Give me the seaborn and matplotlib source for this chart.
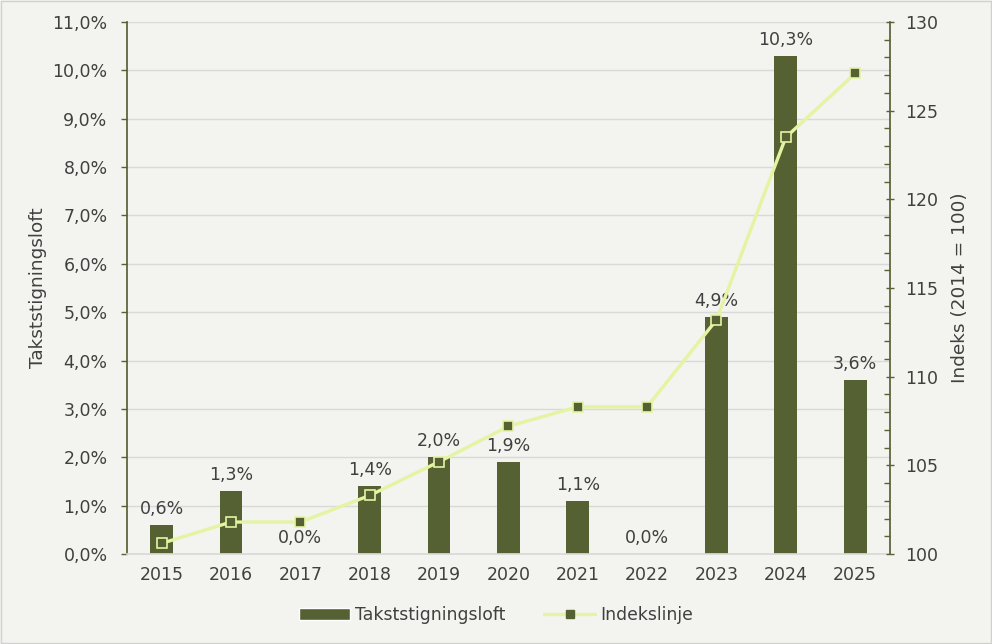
import numpy as np
import pandas as pd
import seaborn as sns
import matplotlib.pyplot as plt
from matplotlib.ticker import MultipleLocator, FuncFormatter
from matplotlib.patches import Patch
from matplotlib.lines import Line2D

years = ["2015", "2016", "2017", "2018", "2019", "2020", "2021", "2022", "2023", "2024", "2025"]
takst = [0.6, 1.3, 0.0, 1.4, 2.0, 1.9, 1.1, 0.0, 4.9, 10.3, 3.6]
indeks = [100.6, 101.8, 101.8, 103.3, 105.2, 107.2, 108.3, 108.3, 113.2, 123.5, 127.1]

bar_col = "#566133"
line_col = "#E4F4A2"
bg = "#F3F3EF"
txt = "#404040"

sns.set_theme(style="white")
plt.rcParams["font.family"] = ["DejaVu Sans"]

df = pd.DataFrame({"year": years, "takst": takst, "indeks": indeks})

fig = plt.figure(figsize=(9.92, 6.44), dpi=100, facecolor=bg)
ax = fig.add_axes([0.128, 0.1398, 0.769, 0.826])
ax.set_facecolor(bg)

sns.barplot(data=df, x="year", y="takst", color=bar_col, width=0.33,
            saturation=1, ax=ax, zorder=2, linewidth=0)
for c in ax.containers:
    ax.bar_label(c, labels=[f"{v:.1f}%".replace(".", ",") for v in takst],
                 padding=5, fontsize=12.5, color=txt)

ax.set_ylim(0, 11)
ax.set_xlim(-0.5, len(years) - 0.5)
ax.yaxis.set_major_locator(MultipleLocator(1))
ax.yaxis.set_major_formatter(FuncFormatter(lambda v, p: f"{v:.1f}%".replace(".", ",")))
ax.grid(axis="y", color="#D9D9D9", lw=1, zorder=0)
ax.set_axisbelow(True)
ax.set_xlabel("")
ax.set_ylabel("Takststigningsloft", fontsize=13.3, color=txt, labelpad=4)
ax.tick_params(axis="y", labelsize=12.5, colors=txt, length=4, width=1, color="#5A6035",
               left=True, pad=10)
ax.tick_params(axis="x", labelsize=12.5, colors=txt, length=0, pad=9)
for s in ["top", "right"]:
    ax.spines[s].set_visible(False)
ax.spines["left"].set_color("#5A6035")
ax.spines["bottom"].set_color("#D9D9D9")

ax2 = ax.twinx()
sns.lineplot(x=np.arange(len(years)), y=indeks, ax=ax2, color=line_col, lw=2.4,
             marker="s", markersize=6.5, markerfacecolor=bar_col,
             markeredgecolor=line_col, markeredgewidth=1.2, zorder=3)
ax2.set_ylim(100, 130)
ax2.yaxis.set_major_locator(MultipleLocator(5))
ax2.yaxis.set_minor_locator(MultipleLocator(1))
ax2.set_ylabel("Indeks (2014 = 100)", fontsize=13.3, color=txt, labelpad=9)
ax2.tick_params(axis="y", which="major", labelsize=12.5, colors=txt, length=6,
                direction="inout", width=1, color="#5A6035", right=True, pad=8)
ax2.tick_params(axis="y", which="minor", length=4, direction="in", width=1,
                color="#5A6035", right=True)
for s in ["top", "left", "bottom"]:
    ax2.spines[s].set_visible(False)
ax2.spines["right"].set_color("#5A6035")

handles = [Patch(facecolor=bar_col, label="Takststigningsloft"),
           Line2D([], [], color=line_col, lw=2.4, marker="s", markersize=6,
                  markerfacecolor=bar_col, markeredgecolor=bar_col, label="Indekslinje")]
fig.legend(handles=handles, loc="center", bbox_to_anchor=(0.5, 0.045), ncol=2,
           frameon=False, fontsize=12.4, handlelength=3, handletextpad=0.3,
           columnspacing=2.2, labelcolor=txt)

fig.patches.append(plt.Rectangle((0.001, 0.001), 0.998, 0.998, transform=fig.transFigure,
                                 fill=False, edgecolor="#D0D0D0", lw=1))
fig.savefig("out.png", dpi=100, facecolor=bg)
